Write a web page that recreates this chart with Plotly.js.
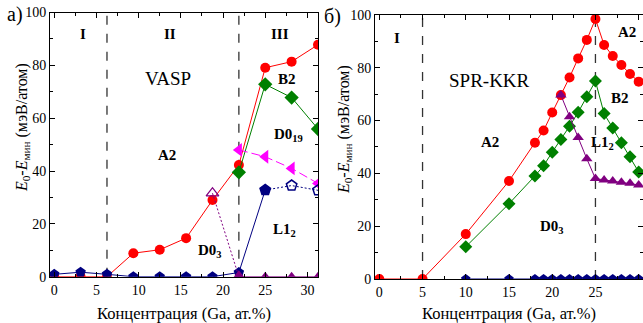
<!DOCTYPE html>
<html><head><meta charset="utf-8">
<script src="https://cdn.plot.ly/plotly-3.0.1.min.js"></script>
<style>html,body{margin:0;padding:0;background:#fff}#chart{width:643px;height:323px}</style>
</head><body><div id="chart"></div>
<script>
// ---- Panel a) VASP ----
const vaspX = [0, 3.125, 6.25, 9.375, 12.5, 15.625, 18.75, 21.875, 25, 28.125, 31.25];
const vaspA2 = [0, 0, 0, 8.9, 10.2, 14.6, 29.0, 42.3, 79.1, 81.4, 87.8];
const vaspHiX = [21.875, 25, 28.125, 31.25];
const vaspB2 = [39.5, 72.8, 67.8, 55.9];
const vaspD019 = [48.0, 45.4, 41.0, 35.3];
const vaspD03 = [0, 0, 0, 0];
const vaspD03TransX = [18.75, 21.875];
const vaspD03Trans = [31.6, 0];
const vaspL12X = [0, 3.125, 6.25, 9.375, 12.5, 15.625, 18.75, 21.875, 25];
const vaspL12 = [0.9, 1.7, 0.9, 0, 0, 0, 0, 1.6, 32.8];
const vaspL12OpenX = [25, 28.125, 31.25];
const vaspL12Open = [32.8, 34.5, 32.7];
const vaspBounds = [6.25, 21.875];

// ---- Panel б) SPR-KKR ----
const kkrA2X = [0, 5, 10, 15, 18, 19, 20, 21, 22, 23, 24, 25, 26, 27, 28, 29, 30];
const kkrA2 = [0, 0, 17.0, 37.1, 51.6, 56.2, 63.0, 69.6, 76.3, 83.5, 90.5, 98.4, 88.6, 84.4, 81.0, 77.6, 74.7];
const kkrB2X = [10, 15, 18, 19, 20, 21, 22, 23, 24, 25, 26, 27, 28, 29, 30];
const kkrB2 = [12.2, 28.5, 39.0, 42.9, 48.0, 52.8, 57.8, 63.1, 69.0, 74.9, 62.6, 57.2, 51.6, 46.3, 40.5];
const kkrL12X = [21, 22, 23, 24, 25, 26, 27, 28, 29, 30];
const kkrL12 = [69.6, 61.4, 53.6, 45.5, 38.0, 37.5, 37.1, 36.6, 36.2, 35.6];
const kkrD03X = [10, 15, 18, 19, 20, 21, 22, 23, 24, 25, 26, 27, 28, 29, 30];
const kkrD03 = [0, 0, 0, 0, 0, 0, 0, 0, 0, 0, 0, 0, 0, 0, 0];
const kkrBounds = [5, 25];

const xTickVals = [0, 5, 10, 15, 20, 25, 30];
const yTickVals = [0, 20, 40, 60, 80, 100];
const xTitle = 'Концентрация (Ga, ат.%)';
const yTitle = '<i>E</i><sub>0</sub>-<i>E</i><sub>мин</sub> (мэВ/атом)';

const RED = '#ff0000', GREEN = '#008000', MAG = '#ff00ff', PUR = '#800080', NAVY = '#000080';
const FONT = 'Liberation Serif';

function tr(x, y, ax, color, symbol, size, dash) {
  return {
    x: x, y: y, xaxis: ax[0], yaxis: ax[1], type: 'scatter', mode: 'lines+markers',
    line: {color: color, width: 1, dash: dash || 'solid'},
    marker: {color: color, symbol: symbol, size: size, line: {width: 0, color: color}},
    showlegend: false, hoverinfo: 'skip'
  };
}
const A = ['x', 'y'], B = ['x2', 'y2'];

const purTrans = tr(vaspD03TransX, vaspD03Trans, A, PUR, ['triangle-up-open', 'triangle-up'], 11, '2px,2px');
purTrans.marker.line = {width: 1.3, color: PUR};

const navyOpen = tr(vaspL12OpenX, vaspL12Open, A, NAVY, ['pentagon', 'pentagon-open', 'pentagon-open'], 11, '2px,2px');
navyOpen.marker.line = {width: 1.5, color: NAVY};

const data = [
  tr(vaspX, vaspA2, A, RED, 'circle', 10),
  tr(vaspHiX, vaspB2, A, GREEN, 'diamond', 11),
  tr(vaspHiX, vaspD019, A, MAG, 'triangle-left', 12, '9px,4px'),
  tr(vaspL12X, vaspL12, A, NAVY, 'pentagon', 11),
  navyOpen,
  purTrans,
  tr(vaspHiX, vaspD03, A, PUR, 'triangle-up', 10),
  tr(kkrA2X, kkrA2, B, RED, 'circle', 10),
  tr(kkrB2X, kkrB2, B, GREEN, 'diamond', 10),
  tr(kkrD03X, kkrD03, B, NAVY, 'pentagon', 10),
  tr(kkrL12X, kkrL12, B, PUR, 'triangle-up', 10)
];

function xax(range, domain, anchor) {
  return {
    domain: domain, range: range, anchor: anchor, tickvals: xTickVals,
    ticks: 'inside', ticklen: 5, tickwidth: 1, tickcolor: '#000',
    minor: {dtick: 2.5, tick0: 0, ticks: 'inside', ticklen: 3, tickcolor: '#000'},
    showline: true, linecolor: '#000', linewidth: 1, mirror: 'allticks',
    showgrid: false, zeroline: false,
    tickfont: {family: FONT, size: 14, color: '#000'},
    title: {text: xTitle, font: {family: FONT, size: 16.5, color: '#000'}, standoff: 11}
  };
}
function yax(domain, anchor) {
  return {
    domain: domain, range: [0, 100], anchor: anchor, tickvals: yTickVals,
    ticks: 'inside', ticklen: 5, tickwidth: 1, tickcolor: '#000',
    minor: {dtick: 10, tick0: 0, ticks: 'inside', ticklen: 3, tickcolor: '#000'},
    showline: true, linecolor: '#000', linewidth: 1, mirror: 'allticks',
    showgrid: false, zeroline: false,
    tickfont: {family: FONT, size: 14, color: '#000'}
  };
}

const shapes = [];
vaspBounds.forEach(v => shapes.push({type: 'line', xref: 'x', yref: 'y domain', x0: v, x1: v, y0: 0, y1: 1,
  line: {color: '#333', width: 1.3, dash: 'dash'}, layer: 'below'}));
kkrBounds.forEach(v => shapes.push({type: 'line', xref: 'x2', yref: 'y2 domain', x0: v, x1: v, y0: 0, y1: 1,
  line: {color: '#333', width: 1.3, dash: 'dash'}, layer: 'below'}));

function lab(text, x, y, ax, size, bold) {
  return {text: bold ? '<b>' + text + '</b>' : text, x: x, y: y, xref: ax[0], yref: ax[1],
    showarrow: false, font: {family: FONT, size: size, color: '#000'}};
}
function paperText(text, px, py, size, angle) {
  return {text: text, x: px / 643, y: 1 - py / 323, xref: 'paper', yref: 'paper',
    xanchor: angle ? 'center' : 'left', yanchor: 'middle', showarrow: false, textangle: angle || 0,
    font: {family: FONT, size: size, color: '#000'}};
}
const annotations = [
  lab('I', 3.4, 91.7, A, 15, true),
  lab('II', 13.7, 91.7, A, 15, true),
  lab('III', 26.7, 91.7, A, 15, true),
  lab('VASP', 13.5, 75.1, A, 19, false),
  lab('B2', 27.6, 74.7, A, 15, true),
  lab('D0<sub>19</sub>', 27.8, 53.6, A, 15, true),
  lab('A2', 13.4, 46, A, 15, true),
  lab('D0<sub>3</sub>', 18.4, 9.8, A, 15, true),
  lab('L1<sub>2</sub>', 27.3, 17.7, A, 15, true),
  lab('I', 2.0, 91.3, B, 15, true),
  lab('SPR-KKR', 12.8, 75.3, B, 19, false),
  lab('A2', 12.8, 52, B, 15, true),
  lab('A2', 28.6, 93.4, B, 15, true),
  lab('B2', 27.8, 68.4, B, 15, true),
  lab('L1<sub>2</sub>', 25.8, 51.4, B, 15, true),
  lab('D0<sub>3</sub>', 20.0, 19.8, B, 15, true),
  paperText('а)', 5, 15, 20),
  paperText('б)', 322, 16, 20),
  paperText(yTitle, 22, 128, 16, -90),
  paperText(yTitle, 344, 130, 16, -90)
];

const layout = {
  width: 643, height: 323,
  margin: {l: 0, r: 0, t: 0, b: 0, pad: 0},
  paper_bgcolor: '#fff', plot_bgcolor: '#fff',
  xaxis: xax([-0.5, 31.25], [50 / 643, 318 / 643], 'y'),
  yaxis: yax([46.3 / 323, 310.5 / 323], 'x'),
  xaxis2: xax([-0.5, 30.5], [375 / 643, 1], 'y2'),
  yaxis2: yax([44 / 323, 308.2 / 323], 'x2'),
  shapes: shapes,
  annotations: annotations,
  font: {family: FONT, size: 14, color: '#000'}
};

Plotly.newPlot('chart', data, layout, {staticPlot: true, displayModeBar: false});
</script></body></html>
